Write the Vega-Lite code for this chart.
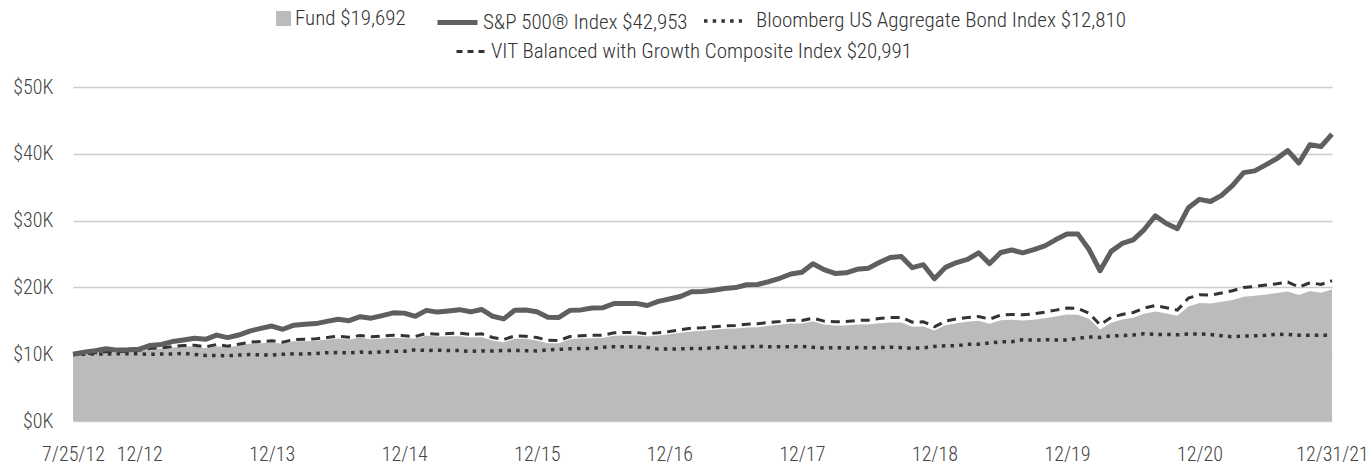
{
  "$schema": "https://vega.github.io/schema/vega-lite/v6.json",
  "width": 1259,
  "height": 334,
  "autosize": {"type": "none"},
  "padding": {"left": 73, "top": 87, "right": 37, "bottom": 44},
  "background": "white",
  "config": {
    "view": {"stroke": null},
    "font": "Roboto Condensed, Liberation Sans Narrow, DejaVu Sans Condensed, Roboto, sans-serif",
    "axis": {
      "labelFont": "Roboto Condensed, Liberation Sans Narrow, DejaVu Sans Condensed, Roboto, sans-serif",
      "labelFontSize": 20,
      "labelFontWeight": 300,
      "labelColor": "#444444",
      "domain": false,
      "ticks": false,
      "tickSize": 0
    },
    "legend": {
      "labelFont": "Roboto Condensed, Liberation Sans Narrow, DejaVu Sans Condensed, Roboto, sans-serif",
      "labelFontSize": 21,
      "labelFontWeight": 300,
      "labelColor": "#333333",
      "labelLimit": 800,
      "orient": "none",
      "padding": 0
    }
  },
  "data": {
    "values": [
      {"d": "2012-07-25", "fund": 10000, "sp": 10000, "agg": 10000, "vit": 10000},
      {"d": "2012-07-31", "fund": 10050, "sp": 10313, "agg": 10010, "vit": 10080},
      {"d": "2012-08-31", "fund": 10180, "sp": 10535, "agg": 10017, "vit": 10200},
      {"d": "2012-09-30", "fund": 10350, "sp": 10807, "agg": 10031, "vit": 10400},
      {"d": "2012-10-31", "fund": 10300, "sp": 10611, "agg": 10051, "vit": 10350},
      {"d": "2012-11-30", "fund": 10400, "sp": 10660, "agg": 10067, "vit": 10450},
      {"d": "2012-12-31", "fund": 10550, "sp": 10752, "agg": 10053, "vit": 10600},
      {"d": "2013-01-31", "fund": 10800, "sp": 11313, "agg": 9983, "vit": 10900},
      {"d": "2013-02-28", "fund": 10850, "sp": 11457, "agg": 10033, "vit": 10950},
      {"d": "2013-03-31", "fund": 11000, "sp": 11889, "agg": 10041, "vit": 11150},
      {"d": "2013-04-30", "fund": 11150, "sp": 12124, "agg": 10142, "vit": 11300},
      {"d": "2013-05-31", "fund": 11150, "sp": 12396, "agg": 9961, "vit": 11350},
      {"d": "2013-06-30", "fund": 10900, "sp": 12230, "agg": 9807, "vit": 11100},
      {"d": "2013-07-31", "fund": 11200, "sp": 12856, "agg": 9821, "vit": 11450},
      {"d": "2013-08-31", "fund": 11000, "sp": 12475, "agg": 9771, "vit": 11200},
      {"d": "2013-09-30", "fund": 11300, "sp": 12867, "agg": 9864, "vit": 11500},
      {"d": "2013-10-31", "fund": 11550, "sp": 13462, "agg": 9944, "vit": 11800},
      {"d": "2013-11-30", "fund": 11650, "sp": 13863, "agg": 9907, "vit": 11900},
      {"d": "2013-12-31", "fund": 11750, "sp": 14214, "agg": 9851, "vit": 12000},
      {"d": "2014-01-31", "fund": 11550, "sp": 13731, "agg": 9997, "vit": 11800},
      {"d": "2014-02-28", "fund": 11950, "sp": 14347, "agg": 10050, "vit": 12200},
      {"d": "2014-03-31", "fund": 11950, "sp": 14469, "agg": 10033, "vit": 12250},
      {"d": "2014-04-30", "fund": 12000, "sp": 14583, "agg": 10117, "vit": 12300},
      {"d": "2014-05-31", "fund": 12200, "sp": 14915, "agg": 10232, "vit": 12500},
      {"d": "2014-06-30", "fund": 12350, "sp": 15223, "agg": 10237, "vit": 12700},
      {"d": "2014-07-31", "fund": 12200, "sp": 15019, "agg": 10211, "vit": 12550},
      {"d": "2014-08-31", "fund": 12450, "sp": 15610, "agg": 10323, "vit": 12800},
      {"d": "2014-09-30", "fund": 12250, "sp": 15394, "agg": 10253, "vit": 12600},
      {"d": "2014-10-31", "fund": 12350, "sp": 15777, "agg": 10353, "vit": 12700},
      {"d": "2014-11-30", "fund": 12450, "sp": 16191, "agg": 10427, "vit": 12850},
      {"d": "2014-12-31", "fund": 12400, "sp": 16149, "agg": 10436, "vit": 12750},
      {"d": "2015-01-31", "fund": 12350, "sp": 15674, "agg": 10655, "vit": 12650},
      {"d": "2015-02-28", "fund": 12750, "sp": 16562, "agg": 10555, "vit": 13100},
      {"d": "2015-03-31", "fund": 12650, "sp": 16301, "agg": 10604, "vit": 13000},
      {"d": "2015-04-30", "fund": 12700, "sp": 16467, "agg": 10566, "vit": 13100},
      {"d": "2015-05-31", "fund": 12700, "sp": 16667, "agg": 10541, "vit": 13150},
      {"d": "2015-06-30", "fund": 12500, "sp": 16344, "agg": 10426, "vit": 12950},
      {"d": "2015-07-31", "fund": 12550, "sp": 16695, "agg": 10499, "vit": 13050},
      {"d": "2015-08-31", "fund": 12050, "sp": 15675, "agg": 10484, "vit": 12500},
      {"d": "2015-09-30", "fund": 11800, "sp": 15285, "agg": 10555, "vit": 12200},
      {"d": "2015-10-31", "fund": 12300, "sp": 16582, "agg": 10557, "vit": 12750},
      {"d": "2015-11-30", "fund": 12300, "sp": 16617, "agg": 10530, "vit": 12700},
      {"d": "2015-12-31", "fund": 12050, "sp": 16353, "agg": 10496, "vit": 12500},
      {"d": "2016-01-31", "fund": 11650, "sp": 15549, "agg": 10641, "vit": 12100},
      {"d": "2016-02-29", "fund": 11650, "sp": 15510, "agg": 10716, "vit": 12050},
      {"d": "2016-03-31", "fund": 12250, "sp": 16561, "agg": 10815, "vit": 12650},
      {"d": "2016-04-30", "fund": 12350, "sp": 16633, "agg": 10856, "vit": 12750},
      {"d": "2016-05-31", "fund": 12400, "sp": 16916, "agg": 10859, "vit": 12850},
      {"d": "2016-06-30", "fund": 12450, "sp": 16960, "agg": 11054, "vit": 12850},
      {"d": "2016-07-31", "fund": 12750, "sp": 17592, "agg": 11124, "vit": 13200},
      {"d": "2016-08-31", "fund": 12800, "sp": 17600, "agg": 11112, "vit": 13250},
      {"d": "2016-09-30", "fund": 12800, "sp": 17607, "agg": 11105, "vit": 13250},
      {"d": "2016-10-31", "fund": 12650, "sp": 17294, "agg": 11021, "vit": 13050},
      {"d": "2016-11-30", "fund": 12800, "sp": 17914, "agg": 10760, "vit": 13200},
      {"d": "2016-12-31", "fund": 13000, "sp": 18271, "agg": 10775, "vit": 13400},
      {"d": "2017-01-31", "fund": 13200, "sp": 18629, "agg": 10797, "vit": 13650},
      {"d": "2017-02-28", "fund": 13400, "sp": 19353, "agg": 10869, "vit": 13900},
      {"d": "2017-03-31", "fund": 13500, "sp": 19377, "agg": 10864, "vit": 13950},
      {"d": "2017-04-30", "fund": 13650, "sp": 19586, "agg": 10948, "vit": 14100},
      {"d": "2017-05-31", "fund": 13800, "sp": 19845, "agg": 11032, "vit": 14250},
      {"d": "2017-06-30", "fund": 13850, "sp": 19974, "agg": 11021, "vit": 14300},
      {"d": "2017-07-31", "fund": 14000, "sp": 20394, "agg": 11068, "vit": 14500},
      {"d": "2017-08-31", "fund": 14050, "sp": 20439, "agg": 11168, "vit": 14550},
      {"d": "2017-09-30", "fund": 14250, "sp": 20868, "agg": 11114, "vit": 14750},
      {"d": "2017-10-31", "fund": 14400, "sp": 21366, "agg": 11121, "vit": 14900},
      {"d": "2017-11-30", "fund": 14600, "sp": 22002, "agg": 11106, "vit": 15100},
      {"d": "2017-12-31", "fund": 14600, "sp": 22256, "agg": 11157, "vit": 15050},
      {"d": "2018-01-31", "fund": 14950, "sp": 23545, "agg": 11029, "vit": 15400},
      {"d": "2018-02-28", "fund": 14450, "sp": 22665, "agg": 10924, "vit": 14950},
      {"d": "2018-03-31", "fund": 14300, "sp": 22092, "agg": 10994, "vit": 14850},
      {"d": "2018-04-30", "fund": 14300, "sp": 22189, "agg": 10913, "vit": 14900},
      {"d": "2018-05-31", "fund": 14450, "sp": 22706, "agg": 10990, "vit": 15050},
      {"d": "2018-06-30", "fund": 14450, "sp": 22853, "agg": 10977, "vit": 15100},
      {"d": "2018-07-31", "fund": 14650, "sp": 23716, "agg": 10979, "vit": 15350},
      {"d": "2018-08-31", "fund": 14750, "sp": 24473, "agg": 11049, "vit": 15500},
      {"d": "2018-09-30", "fund": 14750, "sp": 24619, "agg": 10978, "vit": 15500},
      {"d": "2018-10-31", "fund": 14100, "sp": 22948, "agg": 10891, "vit": 14800},
      {"d": "2018-11-30", "fund": 14150, "sp": 23397, "agg": 10957, "vit": 14850},
      {"d": "2018-12-31", "fund": 13550, "sp": 21285, "agg": 11159, "vit": 14100},
      {"d": "2019-01-31", "fund": 14350, "sp": 22998, "agg": 11277, "vit": 14950},
      {"d": "2019-02-28", "fund": 14650, "sp": 23721, "agg": 11270, "vit": 15300},
      {"d": "2019-03-31", "fund": 14850, "sp": 24185, "agg": 11487, "vit": 15500},
      {"d": "2019-04-30", "fund": 15000, "sp": 25178, "agg": 11490, "vit": 15650},
      {"d": "2019-05-31", "fund": 14550, "sp": 23561, "agg": 11695, "vit": 15250},
      {"d": "2019-06-30", "fund": 15100, "sp": 25227, "agg": 11842, "vit": 15850},
      {"d": "2019-07-31", "fund": 15150, "sp": 25600, "agg": 11868, "vit": 15950},
      {"d": "2019-08-31", "fund": 15050, "sp": 25178, "agg": 12175, "vit": 15900},
      {"d": "2019-09-30", "fund": 15150, "sp": 25652, "agg": 12111, "vit": 16050},
      {"d": "2019-10-31", "fund": 15400, "sp": 26220, "agg": 12147, "vit": 16300},
      {"d": "2019-11-30", "fund": 15650, "sp": 27158, "agg": 12141, "vit": 16600},
      {"d": "2019-12-31", "fund": 15950, "sp": 27981, "agg": 12132, "vit": 16900},
      {"d": "2020-01-31", "fund": 15900, "sp": 27981, "agg": 12365, "vit": 16850},
      {"d": "2020-02-29", "fund": 15300, "sp": 25670, "agg": 12588, "vit": 16150},
      {"d": "2020-03-31", "fund": 13700, "sp": 22495, "agg": 12514, "vit": 14400},
      {"d": "2020-04-30", "fund": 14700, "sp": 25390, "agg": 12737, "vit": 15500},
      {"d": "2020-05-31", "fund": 15200, "sp": 26584, "agg": 12797, "vit": 15950},
      {"d": "2020-06-30", "fund": 15450, "sp": 27118, "agg": 12878, "vit": 16250},
      {"d": "2020-07-31", "fund": 16050, "sp": 28659, "agg": 13070, "vit": 16900},
      {"d": "2020-08-31", "fund": 16400, "sp": 30718, "agg": 12964, "vit": 17300},
      {"d": "2020-09-30", "fund": 16100, "sp": 29562, "agg": 12958, "vit": 16950},
      {"d": "2020-10-31", "fund": 15750, "sp": 28791, "agg": 12900, "vit": 16600},
      {"d": "2020-11-30", "fund": 17150, "sp": 31940, "agg": 13026, "vit": 18400},
      {"d": "2020-12-31", "fund": 17650, "sp": 33181, "agg": 13044, "vit": 18900},
      {"d": "2021-01-31", "fund": 17600, "sp": 32865, "agg": 12950, "vit": 18850},
      {"d": "2021-02-28", "fund": 17850, "sp": 33780, "agg": 12764, "vit": 19150},
      {"d": "2021-03-31", "fund": 18100, "sp": 35271, "agg": 12604, "vit": 19500},
      {"d": "2021-04-30", "fund": 18600, "sp": 37182, "agg": 12704, "vit": 20000},
      {"d": "2021-05-31", "fund": 18750, "sp": 37447, "agg": 12746, "vit": 20150},
      {"d": "2021-06-30", "fund": 18950, "sp": 38342, "agg": 12835, "vit": 20350},
      {"d": "2021-07-31", "fund": 19150, "sp": 39280, "agg": 12979, "vit": 20550},
      {"d": "2021-08-31", "fund": 19400, "sp": 40485, "agg": 12954, "vit": 20800},
      {"d": "2021-09-30", "fund": 18850, "sp": 38622, "agg": 12842, "vit": 20050},
      {"d": "2021-10-31", "fund": 19450, "sp": 41362, "agg": 12838, "vit": 20700},
      {"d": "2021-11-30", "fund": 19200, "sp": 41085, "agg": 12850, "vit": 20450},
      {"d": "2021-12-31", "fund": 19692, "sp": 42953, "agg": 12810, "vit": 20991}
    ]
  },
  "encoding": {
    "x": {
      "field": "d",
      "type": "ordinal",
      "scale": {"type": "point", "padding": 0},
      "title": null,
      "axis": {
        "values": ["2012-07-25", "2012-12-31", "2013-12-31", "2014-12-31", "2015-12-31", "2016-12-31", "2017-12-31", "2018-12-31", "2019-12-31", "2020-12-31", "2021-12-31"],
        "labelExpr": "datum.value == '2012-07-25' ? '7/25/12' : (datum.value == '2021-12-31' ? '12/31/21' : '12/' + slice(datum.value, 2, 4))",
        "labelAngle": 0,
        "labelPadding": 23,
        "labelOverlap": false,
        "labelFlush": false,
        "grid": false
      }
    }
  },
  "layer": [
    {
      "mark": {"type": "area", "interpolate": "linear"},
      "encoding": {
        "y": {
          "field": "fund",
          "type": "quantitative",
          "title": null,
          "scale": {"domain": [0, 50000], "nice": false, "zero": true},
          "axis": {
            "values": [0, 10000, 20000, 30000, 40000, 50000],
            "labelExpr": "'$' + (datum.value / 1000) + 'K'",
            "grid": true,
            "gridColor": "#cccccc",
            "gridWidth": 1.5,
            "labelPadding": 20
          }
        },
        "fill": {
          "datum": "Fund $19,692",
          "scale": {"range": ["#bbbbbb"]},
          "legend": {
            "title": null,
            "legendX": 200,
            "legendY": -79,
            "symbolType": "square",
            "symbolSize": 225,
            "symbolStrokeWidth": 0,
            "labelOffset": 1
          }
        }
      }
    },
    {
      "mark": {"type": "line", "stroke": "#333333", "strokeWidth": 3.5, "strokeCap": "butt"},
      "encoding": {
        "y": {"field": "agg", "type": "quantitative", "title": null},
        "strokeDash": {
          "datum": "Bloomberg US Aggregate Bond Index $12,810",
          "scale": {"range": [[3.5, 5.2]]},
          "legend": {
            "title": null,
            "legendX": 629,
            "legendY": -87,
            "symbolType": "stroke",
            "symbolSize": 1444,
            "symbolStrokeColor": "#333333",
            "symbolStrokeWidth": 3.5,
            "labelOffset": 12
          }
        }
      }
    },
    {
      "mark": {"type": "line", "stroke": "#333333", "strokeWidth": 3, "strokeDash": [9, 6]},
      "encoding": {
        "y": {"field": "vit", "type": "quantitative", "title": null},
        "strokeWidth": {
          "datum": "VIT Balanced with Growth Composite Index $20,991",
          "type": "ordinal",
          "scale": {"range": [3, 3]},
          "legend": {
            "title": null,
            "legendX": 382,
            "legendY": -51,
            "symbolType": "stroke",
            "symbolSize": 784,
            "symbolDash": [6, 5],
            "symbolStrokeColor": "#333333",
            "labelOffset": 5
          }
        }
      }
    },
    {
      "mark": {"type": "line", "strokeWidth": 5, "strokeJoin": "round"},
      "encoding": {
        "y": {"field": "sp", "type": "quantitative", "title": null},
        "stroke": {
          "datum": "S&P 500® Index $42,953",
          "scale": {"range": ["#5f5f5f"]},
          "legend": {
            "title": null,
            "legendX": 362,
            "legendY": -87,
            "symbolType": "stroke",
            "symbolSize": 1600,
            "symbolStrokeWidth": 5,
            "labelOffset": 3
          }
        }
      }
    }
  ]
}
